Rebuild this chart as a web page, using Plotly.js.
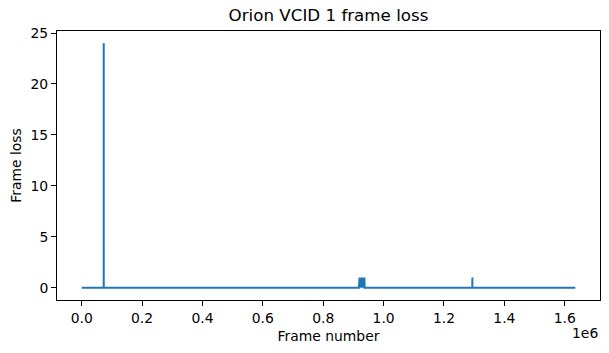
<!DOCTYPE html>
<html>
<head>
<meta charset="utf-8">
<script src="https://cdn.plot.ly/plotly-3.0.1.min.js"></script>
<style>html,body{margin:0;padding:0;background:#fff;}#chart{width:609px;height:353px;}</style>
</head>
<body>
<div id="chart"></div>
<script>
// Frame number vs frame loss
const frameNumber = [
  0, 72950, 73000, 73050,
  918000, 918500, 919000, 920500, 921000, 922500, 923000, 924500, 925000,
  926500, 927000, 928500, 929000, 930500, 931000, 932500, 933000, 934500,
  935000, 936500, 937000,
  1293950, 1294000, 1294050,
  1635000
];
const frameLoss = [
  0, 0, 24, 0,
  0, 1, 0, 1, 0, 1, 0, 1, 0,
  1, 0, 1, 0, 1, 0, 1, 0, 1,
  0, 1, 0,
  0, 1, 0,
  0
];
const xTickVals = [0, 200000, 400000, 600000, 800000, 1000000, 1200000, 1400000, 1600000];
const xTickText = ["0.0", "0.2", "0.4", "0.6", "0.8", "1.0", "1.2", "1.4", "1.6"];
const yTickVals = [0, 5, 10, 15, 20, 25];

const xMax = 1635000;
const yMax = 24;

const font = {family: "DejaVu Sans, sans-serif", size: 13.9, color: "#000"};

const trace = {
  x: frameNumber, y: frameLoss, type: "scatter", mode: "lines",
  line: {color: "#1f77b4", width: 2}, hoverinfo: "none"
};

const axisCommon = {
  showgrid: false, zeroline: false, showline: true, linecolor: "#000", linewidth: 1,
  mirror: true, ticks: "outside", ticklen: 5, tickwidth: 1, tickcolor: "#000",
  tickfont: font
};

const layout = {
  width: 609, height: 353,
  margin: {l: 57, r: 9, t: 31, b: 53},
  paper_bgcolor: "#fff", plot_bgcolor: "#fff",
  showlegend: false,
  font: font,
  title: {text: "Orion VCID 1 frame loss", font: {family: "DejaVu Sans, sans-serif", size: 16.7, color: "#000"},
          x: 0.5, xref: "paper", y: 1, yref: "paper", yanchor: "bottom", pad: {b: 10}},
  xaxis: Object.assign({}, axisCommon, {
    range: [-0.05 * xMax, 1.05 * xMax],
    tickmode: "array", tickvals: xTickVals, ticktext: xTickText,
    title: {text: "Frame number", font: font, standoff: 6}
  }),
  yaxis: Object.assign({}, axisCommon, {
    range: [-0.05 * yMax, 1.05 * yMax],
    tickmode: "array", tickvals: yTickVals, ticktext: yTickVals.map(String),
    title: {text: "Frame loss", font: font, standoff: 5}
  }),
  annotations: [{
    text: "1e6", xref: "paper", yref: "paper", x: 1, y: 0, xanchor: "right", yanchor: "top",
    yshift: -23, showarrow: false, font: font
  }]
};

Plotly.newPlot("chart", [trace], layout, {displayModeBar: false, staticPlot: true});
</script>
</body>
</html>
